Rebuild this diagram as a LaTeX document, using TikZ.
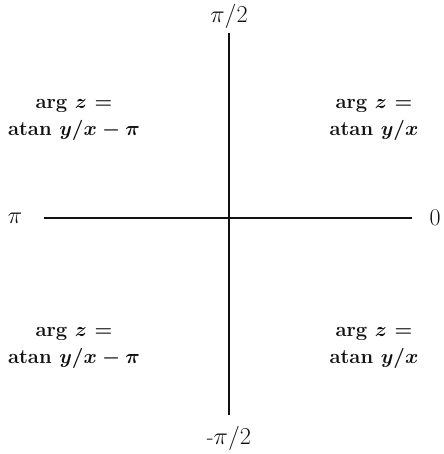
\documentclass[tikz,border=0pt]{standalone}
\usepackage{xcolor}
\usepackage{tikz}
\definecolor{ArgInk}{HTML}{111111}

\begin{document}
\begin{tikzpicture}[x=0.025cm,y=0.025cm,
  quadlabel/.style={align=center,inner sep=0pt,font=\fontsize{14.4}{19.5}\selectfont\bfseries\boldmath,text=ArgInk},
  axislabel/.style={inner sep=0pt,font=\fontsize{16}{18}\selectfont,text=ArgInk}]
\path[use as bounding box] (0,0) rectangle (443,454);
% axes
\coordinate (top) at (229,421);
\coordinate (bottom) at (229,39);
\coordinate (left) at (44,236);
\coordinate (right) at (412,236);
\draw[ArgInk,line width=1pt] (left) -- (right);
\draw[ArgInk,line width=1pt] (bottom) -- (top);
\node[axislabel] (piHalf) at (229,438) {$\pi/2$};
\node[axislabel] (minusPiHalf) at (229,16) {-$\pi/2$};
\node[axislabel] (piLabel) at (15,236) {$\pi$};
\node[axislabel,font=\fontsize{17}{18}\selectfont] (zeroLabel) at (435,236) {0};
% quadrants
\node[quadlabel] (upperLeft) at (74,334) {arg $z$ =\\atan $y/x-\pi$};
\node[quadlabel] (upperRight) at (374,334) {arg $z$ =\\atan $y/x$};
\node[quadlabel] (lowerLeft) at (74,106) {arg $z$ =\\atan $y/x-\pi$};
\node[quadlabel] (lowerRight) at (374,106) {arg $z$ =\\atan $y/x$};
\end{tikzpicture}
\end{document}
